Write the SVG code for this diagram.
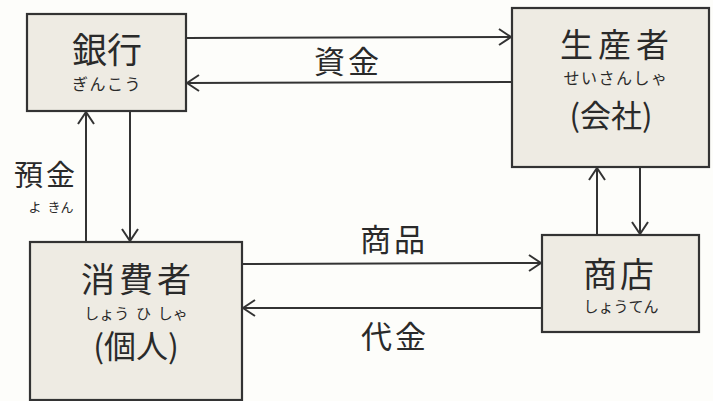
<svg xmlns="http://www.w3.org/2000/svg" width="713" height="401" viewBox="0 0 713 401">
<defs>
<style>
.box{fill:#eeebe3;stroke:#333;stroke-width:2.2}
.ln{fill:none;stroke:#333;stroke-width:2}
.t{font-family:"Noto Sans CJK JP","Noto Sans CJK SC",sans-serif;fill:#2a2a2a;text-anchor:middle}
.lab{font-size:31px;letter-spacing:3px}
</style>
<marker id="ah" viewBox="0 0 14 18" refX="13" refY="9" markerWidth="14" markerHeight="18" markerUnits="userSpaceOnUse" orient="auto">
<path d="M1,1 L13,9 L1,17" fill="none" stroke="#333" stroke-width="2"/>
</marker>
</defs>
<rect width="713" height="401" fill="#fdfdfa"/>
<g id="connectors">
<path class="ln" d="M186,38 L511,37" marker-end="url(#ah)"/>
<path class="ln" d="M512,82 L187,83" marker-end="url(#ah)"/>
<path class="ln" d="M86,242 L86,112" marker-end="url(#ah)"/>
<path class="ln" d="M130,111 L130,241" marker-end="url(#ah)"/>
<path class="ln" d="M597,235 L597,168" marker-end="url(#ah)"/>
<path class="ln" d="M640,167 L640,234" marker-end="url(#ah)"/>
<path class="ln" d="M242,264 L541,263" marker-end="url(#ah)"/>
<path class="ln" d="M542,308 L243,308" marker-end="url(#ah)"/>
<text class="t lab" x="348" y="73">資金</text>
<text class="t lab" x="394" y="251">商品</text>
<text class="t lab" x="395" y="348">代金</text>
<text class="t" font-size="29" letter-spacing="3" x="46" y="186">預金</text>
<text class="t" font-size="13" x="51" y="212" xml:space="preserve">よ  きん</text>
</g>
<g id="bank">
<rect class="box" x="27" y="14" width="159" height="97"/>
<text class="t" font-size="35" x="107" y="63">銀行</text>
<text class="t" font-size="16" x="107" y="90" letter-spacing="1.5">ぎんこう</text>
</g>
<g id="producer">
<rect class="box" x="512" y="8" width="197" height="159"/>
<text class="t" font-size="33" letter-spacing="5" x="617" y="57">生産者</text>
<text class="t" font-size="16" letter-spacing="1.5" x="616" y="84">せいさんしゃ</text>
<text class="t" font-size="31" x="611" y="127">(会社)</text>
</g>
<g id="consumer">
<rect class="box" x="30" y="242" width="212" height="158"/>
<text class="t" font-size="34" letter-spacing="4" x="138" y="292">消費者</text>
<text class="t" font-size="15" x="136" y="319" xml:space="preserve">しょう  ひ  しゃ</text>
<text class="t" font-size="32" x="136" y="358">(個人)</text>
</g>
<g id="shop">
<rect class="box" x="542" y="235" width="157" height="97"/>
<text class="t" font-size="34" letter-spacing="3" x="620" y="287">商店</text>
<text class="t" font-size="15" x="621" y="312">しょうてん</text>
</g>
</svg>
